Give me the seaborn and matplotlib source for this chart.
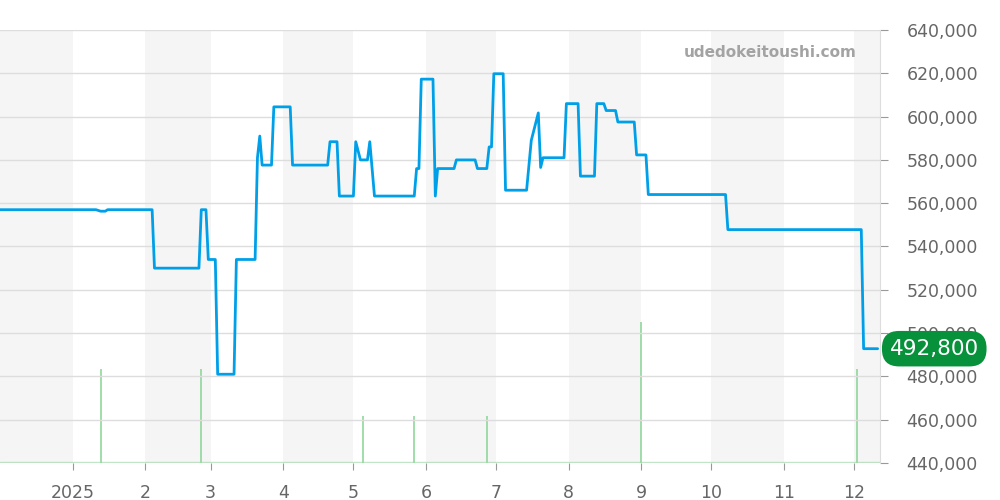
import pandas as pd
import matplotlib.pyplot as plt
import matplotlib.dates as mdates
import matplotlib.transforms as mtransforms
from matplotlib.ticker import FuncFormatter, FixedLocator
import seaborn as sns

# price history
price_dates = [
    "2024-12-01", "2025-01-11", "2025-01-13", "2025-01-15", "2025-01-16",
    "2025-02-04", "2025-02-05", "2025-02-24", "2025-02-25", "2025-02-27",
    "2025-02-28", "2025-03-03", "2025-03-04", "2025-03-11", "2025-03-12",
    "2025-03-20", "2025-03-21", "2025-03-22", "2025-03-23", "2025-03-27",
    "2025-03-28", "2025-04-04", "2025-04-05", "2025-04-20", "2025-04-21",
    "2025-04-24", "2025-04-25", "2025-05-01", "2025-05-02", "2025-05-04",
    "2025-05-07", "2025-05-08", "2025-05-10", "2025-05-27", "2025-05-28",
    "2025-05-29", "2025-05-30", "2025-06-04", "2025-06-05", "2025-06-06",
    "2025-06-13", "2025-06-14", "2025-06-22", "2025-06-23", "2025-06-27",
    "2025-06-28", "2025-06-29", "2025-06-30", "2025-07-04", "2025-07-05",
    "2025-07-14", "2025-07-16", "2025-07-19", "2025-07-20", "2025-07-21",
    "2025-07-30", "2025-07-31", "2025-08-05", "2025-08-06", "2025-08-12",
    "2025-08-13", "2025-08-16", "2025-08-17", "2025-08-21", "2025-08-22",
    "2025-08-29", "2025-08-30", "2025-09-03", "2025-09-04", "2025-10-07",
    "2025-10-08", "2025-12-04", "2025-12-05", "2025-12-11",
]
prices = [
    557000, 557000, 556300, 556300, 557000,
    557000, 530000, 530000, 557000, 557000,
    534000, 534000, 481000, 481000, 534000,
    534000, 581000, 591000, 577600, 577600,
    604500, 604500, 577600, 577600, 588400,
    588400, 563300, 563300, 588400, 580000,
    580000, 588400, 563300, 563300, 576000,
    576000, 617300, 617300, 563300, 576000,
    576000, 580000, 580000, 576000, 576000,
    586000, 586000, 619800, 619800, 566000,
    566000, 589000, 601700, 576500, 581000,
    581000, 606000, 606000, 572500, 572500,
    606000, 606000, 602800, 602800, 597500,
    597500, 582300, 582300, 564000, 564000,
    547800, 547800, 492800, 492800,
]

# trade counts
volume_dates = ["2025-01-13", "2025-02-25", "2025-05-05", "2025-05-27",
                "2025-06-27", "2025-09-01", "2025-12-02"]
volumes = [2, 2, 1, 1, 1, 3, 2]

y_ticks = list(range(440000, 640001, 20000))
month_ticks = pd.date_range("2025-01-01", "2025-12-01", freq="MS")
shaded_months = ["2024-12", "2025-02", "2025-04", "2025-06", "2025-08", "2025-10", "2025-12"]

last_label = "492,800"
watermark = "udedokeitoushi.com"

LINE_COLOR = "#00a0e9"
VOL_COLOR = "#8fd89a"
GREEN = "#07913b"
TEXT_GRAY = "#666666"

df = pd.DataFrame({"date": pd.to_datetime(price_dates), "price": prices})
vol = pd.DataFrame({"date": pd.to_datetime(volume_dates), "count": volumes})

sns.set_style("white")
plt.rcParams["font.family"] = ["DejaVu Sans"]

fig = plt.figure(figsize=(10, 5), dpi=100)
ax = fig.add_axes([0.0, 0.074, 0.88, 0.866])
ax_vol = ax.twinx()
ax.set_zorder(2)
ax_vol.set_zorder(1)
ax.patch.set_visible(False)

x_start = pd.Timestamp("2024-12-01")
x_end = pd.Timestamp("2025-12-12")

# month shading on the back axes
for m in shaded_months:
    s = pd.Timestamp(m + "-01")
    e = s + pd.offsets.MonthBegin(1)
    ax_vol.axvspan(max(s, x_start), min(e, x_end), color="#f5f5f5", lw=0, zorder=0)

# volume bars
ax_vol.vlines(vol["date"], 0, vol["count"], color=VOL_COLOR, lw=1.2, zorder=2)
ax_vol.axhline(0.02, color=VOL_COLOR, lw=1, alpha=0.6, zorder=2)
ax_vol.set_ylim(0, 9.2)
ax_vol.set_yticks([])
for sp in ax_vol.spines.values():
    sp.set_visible(False)

# price line
sns.lineplot(data=df, x="date", y="price", ax=ax, color=LINE_COLOR,
             linewidth=2.0, estimator=None, zorder=3)

ax.set_xlim(x_start, x_end)
ax.set_ylim(440000, 640000)
ax.set_xlabel("")
ax.set_ylabel("")

ax.yaxis.tick_right()
ax.set_yticks(y_ticks)
ax.yaxis.set_major_formatter(FuncFormatter(lambda v, p: f"{int(v):,}"))
ax.grid(axis="y", color="#dddddd", lw=1)
ax.grid(axis="x", visible=False)

ax.xaxis.set_major_locator(FixedLocator(mdates.date2num(month_ticks)))
ax.xaxis.set_major_formatter(FuncFormatter(
    lambda v, p: str(mdates.num2date(v).year) if mdates.num2date(v).month == 1
    else str(mdates.num2date(v).month)))

ax.tick_params(axis="y", right=True, length=6, color="#999999",
               labelsize=12.5, labelcolor=TEXT_GRAY, pad=13)
ax.tick_params(axis="x", bottom=True, length=5, color="#999999",
               labelsize=12.5, labelcolor=TEXT_GRAY, pad=10)

for name, sp in ax.spines.items():
    sp.set_visible(name == "right")
ax.spines["right"].set_color("#dddddd")

# last price tag
trans = mtransforms.blended_transform_factory(ax.transAxes, ax.transData)
ax.text(1.011, prices[-1], last_label, transform=trans, ha="left", va="center",
        color="white", fontsize=15.5, zorder=5, clip_on=False,
        bbox=dict(boxstyle="round,pad=0.36,rounding_size=0.8", fc=GREEN, ec="none"))

ax.text(0.974, 0.949, watermark, transform=ax.transAxes, ha="right", va="center",
        fontsize=11, fontweight="bold", color="#a3a3a3", zorder=5)

fig.savefig("out.png", dpi=100)
